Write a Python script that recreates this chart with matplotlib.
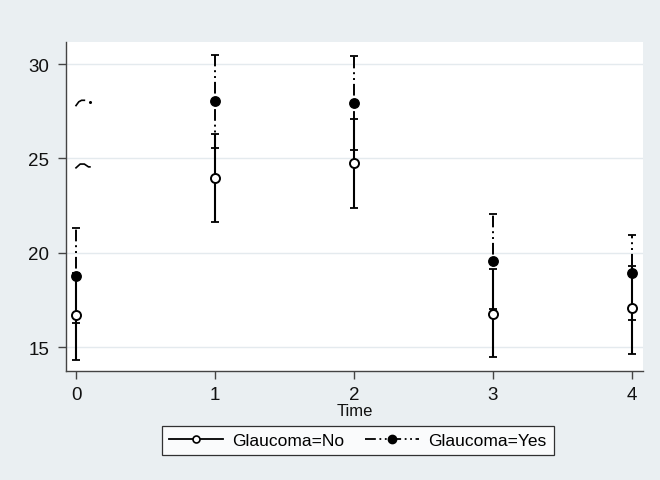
import numpy as np
import matplotlib
matplotlib.use("Agg")
from matplotlib import pyplot as plt
from matplotlib.lines import Line2D

plt.rcParams["font.family"] = ["Liberation Sans", "DejaVu Sans"]

# values
time = [0, 1, 2, 3, 4]
no_mean = [16.68, 23.97, 24.73, 16.74, 17.06]
no_low = [14.31, 21.62, 22.38, 14.45, 14.65]
no_high = [18.90, 26.31, 27.07, 19.16, 19.28]
yes_mean = [18.79, 28.04, 27.95, 19.58, 18.95]
yes_low = [16.27, 25.53, 25.45, 17.03, 16.44]
yes_high = [21.29, 30.50, 30.43, 22.07, 20.92]
yticks = [15, 20, 25, 30]
labels = ["Glaucoma=No", "Glaucoma=Yes"]

bg = "#eaeff2"
cap_blue = "#3f5c7c"
dashdot = (0, (6, 2, 1, 2, 1, 2))

fig = plt.figure(figsize=(6.6, 4.81), dpi=100, facecolor=bg)
ax = fig.add_axes([0.1, 0.2266, 0.874, 0.684])
ax.set_facecolor("white")

t = np.array(time)

# Glaucoma=Yes bars (under)
yerr_yes = [np.array(yes_mean) - np.array(yes_low), np.array(yes_high) - np.array(yes_mean)]
_, caps_y, bars_y = ax.errorbar(t, yes_mean, yerr=yerr_yes, fmt="none", ecolor="black",
    elinewidth=1.4, capsize=2.6, capthick=1.3, zorder=3)
bars_y[0].set_linestyle(dashdot)

# Glaucoma=No bars
yerr_no = [np.array(no_mean) - np.array(no_low), np.array(no_high) - np.array(no_mean)]
_, caps_n, bars_n = ax.errorbar(t, no_mean, yerr=yerr_no, fmt="none", ecolor="black",
    elinewidth=1.5, capsize=2.8, capthick=1.3, zorder=4)
for c in caps_n:
    c.set_color(cap_blue)

# markers
ax.plot(t, no_mean, "o", ms=6.5, mfc="white", mec="black", mew=1.4, ls="none", zorder=5)
ax.plot(t, yes_mean, "o", ms=6.8, mfc="black", mec="black", ls="none", zorder=6)

# odd little strokes near the left edge of the original
ax.plot([0.0, 0.03, 0.06, 0.09, 0.1], [24.5, 24.7, 24.7, 24.55, 24.55],
        color="black", lw=1.2, zorder=2)
ax.plot([0.0, 0.02, 0.04, 0.06], [27.8, 28.0, 28.08, 28.08], color="black", lw=1.2, zorder=2)
ax.plot([0.1], [27.98], "o", ms=1.2, color="black", zorder=2)

ax.set_xlim(-0.072, 4.079)
ax.set_ylim(13.73, 31.17)
ax.set_yticks(yticks)
ax.set_xticks(time)
ax.yaxis.grid(True, color="#e4eaee", lw=1.0)
ax.set_axisbelow(True)
for s in ["top", "right"]:
    ax.spines[s].set_visible(False)
for s in ["left", "bottom"]:
    ax.spines[s].set_color("#444444")
    ax.spines[s].set_linewidth(1.0)
ax.tick_params(axis="both", direction="out", length=6, width=1.0, color="#444444",
               labelsize=13.5, labelcolor="#111111", pad=5)
ax.tick_params(axis="y", pad=6)
ax.set_xlabel("Time", fontsize=12, color="#111111", labelpad=0)

handles = [
    Line2D([], [], color="black", lw=1.3, marker="o", ms=5, mfc="white", mec="black", mew=1.2),
    Line2D([], [], color="black", lw=1.3, ls=dashdot, marker="o", ms=6, mfc="black", mec="black"),
]
leg = fig.legend(handles, labels, loc="center", bbox_to_anchor=(0.542, 0.083), ncol=2,
                 fontsize=12.5, frameon=True, fancybox=False, handlelength=3.1,
                 columnspacing=1.2, handletextpad=0.55, borderpad=0.4)
leg.get_frame().set_edgecolor("black")
leg.get_frame().set_linewidth(0.9)
leg.get_frame().set_facecolor("white")

fig.savefig("out.png", dpi=100, facecolor=bg)
